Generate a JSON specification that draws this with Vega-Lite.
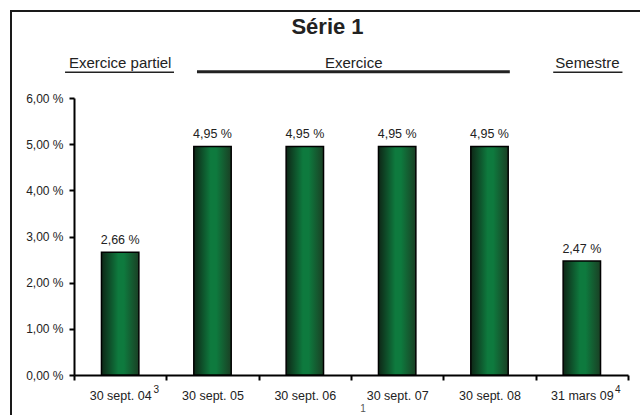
{
  "$schema": "https://vega.github.io/schema/vega-lite/v6.json",
  "width": 633,
  "height": 410,
  "autosize": {"type": "none"},
  "padding": {"left": 11, "top": 11, "right": -4, "bottom": -6},
  "background": "white",
  "config": {
    "view": {"stroke": "#1a1a1a", "strokeWidth": 2},
    "font": "Liberation Sans"
  },
  "data": {
    "values": [
      {"date": "30 sept. 04", "value": 2.66, "note": "3"},
      {"date": "30 sept. 05", "value": 4.95, "note": ""},
      {"date": "30 sept. 06", "value": 4.95, "note": ""},
      {"date": "30 sept. 07", "value": 4.95, "note": ""},
      {"date": "30 sept. 08", "value": 4.95, "note": ""},
      {"date": "31 mars 09", "value": 2.47, "note": "4"}
    ]
  },
  "layer": [
    {
      "mark": {
        "type": "bar",
        "width": {"band": 0.405},
        "stroke": "#000000",
        "strokeWidth": 1.5,
        "fill": {
          "gradient": "linear",
          "x1": 0, "y1": 0, "x2": 1, "y2": 0,
          "stops": [
            {"offset": 0, "color": "#0e2616"},
            {"offset": 0.45, "color": "#0e7a3e"},
            {"offset": 0.6, "color": "#0e7a3e"},
            {"offset": 1, "color": "#1a3f24"}
          ]
        }
      },
      "encoding": {
        "x": {
          "field": "date",
          "type": "nominal",
          "sort": null,
          "scale": {
            "domain": ["30 sept. 04", "30 sept. 05", "30 sept. 06", "30 sept. 07", "30 sept. 08", "31 mars 09"],
            "range": [63, 617],
            "paddingInner": 0,
            "paddingOuter": 0
          },
          "axis": {
            "title": null,
            "orient": "bottom",
            "offset": -46,
            "grid": false,
            "domainColor": "#000000",
            "domainWidth": 2,
            "tickColor": "#000000",
            "tickWidth": 2,
            "tickSize": 5,
            "tickBand": "extent",
            "labelAngle": 0,
            "labelFontSize": 12.5,
            "labelColor": "#222222",
            "labelPadding": 9
          }
        },
        "y": {
          "field": "value",
          "type": "quantitative",
          "scale": {"domain": [0, 6], "range": [364, 87], "nice": false},
          "axis": {
            "title": null,
            "offset": -63,
            "grid": false,
            "values": [0, 1, 2, 3, 4, 5, 6],
            "domainColor": "#000000",
            "domainWidth": 2,
            "tickColor": "#000000",
            "tickWidth": 2,
            "tickSize": 5,
            "labelFontSize": 12,
            "labelColor": "#222222",
            "labelPadding": 6,
            "labelExpr": "replace(format(datum.value, '.2f'), '.', ',') + ' %'"
          }
        }
      }
    },
    {
      "mark": {
        "type": "text",
        "dy": -8,
        "baseline": "alphabetic",
        "fontSize": 12.5,
        "color": "#222222",
        "text": {"expr": "replace(format(datum.value, '.2f'), '.', ',') + ' %'"}
      },
      "encoding": {
        "x": {"field": "date", "type": "nominal", "sort": null},
        "y": {"field": "value", "type": "quantitative"}
      }
    },
    {
      "mark": {"type": "text", "baseline": "alphabetic", "fontSize": 10, "color": "#222222"},
      "encoding": {
        "x": {"field": "date", "type": "nominal", "sort": null, "bandPosition": 0.89},
        "y": {"datum": -0.38},
        "text": {"field": "note"}
      }
    },
    {
      "data": {"values": [{"t": "1", "cat": "30 sept. 07"}]},
      "mark": {"type": "text", "baseline": "alphabetic", "fontSize": 10, "color": "#555555"},
      "encoding": {
        "x": {"field": "cat", "type": "nominal", "bandPosition": 0.13},
        "y": {"datum": -0.8},
        "text": {"field": "t"}
      }
    },
    {
      "data": {"values": [{"t": "Série 1"}]},
      "mark": {
        "type": "text",
        "x": {"expr": "width / 2"},
        "baseline": "alphabetic",
        "fontSize": 22,
        "fontWeight": "bold",
        "color": "#222222"
      },
      "encoding": {
        "y": {"datum": 7.39},
        "text": {"field": "t"}
      }
    },
    {
      "data": {"values": [{"t": "Exercice partiel", "cat": "30 sept. 04"}]},
      "mark": {"type": "text", "baseline": "alphabetic", "fontSize": 15, "color": "#222222"},
      "encoding": {
        "x": {"field": "cat", "type": "nominal", "bandPosition": 0.5},
        "y": {"datum": 6.64},
        "text": {"field": "t"}
      }
    },
    {
      "data": {"values": [{"from": "30 sept. 04", "to": "30 sept. 04"}]},
      "mark": {"type": "rule", "strokeWidth": 1.5, "color": "#222222"},
      "encoding": {
        "x": {"field": "from", "type": "nominal", "bandPosition": -0.097},
        "x2": {"field": "to", "bandPosition": 1.083},
        "y": {"datum": 6.56}
      }
    },
    {
      "data": {"values": [{"t": "Exercice", "cat": "30 sept. 06"}]},
      "mark": {"type": "text", "baseline": "alphabetic", "fontSize": 15, "color": "#222222"},
      "encoding": {
        "x": {"field": "cat", "type": "nominal", "bandPosition": 1.03},
        "y": {"datum": 6.64},
        "text": {"field": "t"}
      }
    },
    {
      "data": {"values": [{"from": "30 sept. 05", "to": "30 sept. 08"}]},
      "mark": {"type": "rule", "strokeWidth": 3, "color": "#222222"},
      "encoding": {
        "x": {"field": "from", "type": "nominal", "bandPosition": 0.332},
        "x2": {"field": "to", "bandPosition": 0.72},
        "y": {"datum": 6.57}
      }
    },
    {
      "data": {"values": [{"t": "Semestre", "cat": "31 mars 09"}]},
      "mark": {"type": "text", "baseline": "alphabetic", "fontSize": 15, "color": "#222222"},
      "encoding": {
        "x": {"field": "cat", "type": "nominal", "bandPosition": 0.56},
        "y": {"datum": 6.64},
        "text": {"field": "t"}
      }
    },
    {
      "data": {"values": [{"from": "31 mars 09", "to": "31 mars 09"}]},
      "mark": {"type": "rule", "strokeWidth": 1.5, "color": "#222222"},
      "encoding": {
        "x": {"field": "from", "type": "nominal", "bandPosition": 0.19},
        "x2": {"field": "to", "bandPosition": 0.94},
        "y": {"datum": 6.56}
      }
    }
  ]
}
